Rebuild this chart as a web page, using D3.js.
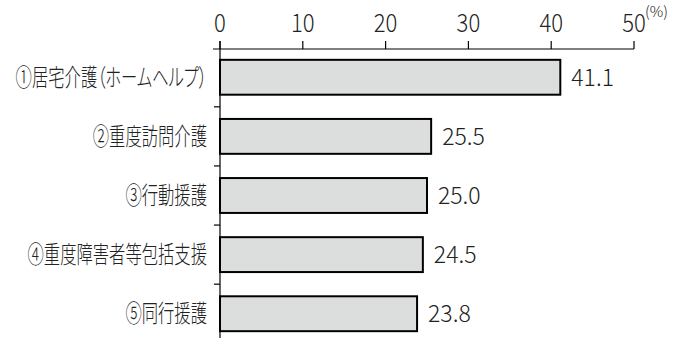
<!DOCTYPE html>
<html><head><meta charset="utf-8">
<script src="https://cdn.jsdelivr.net/npm/d3@7"></script>
<style>
body{margin:0;background:#fff;}
text{font-family:"Noto Sans CJK JP","Noto Sans",sans-serif;font-weight:300;fill:#222;}
</style></head>
<body><svg id="c" width="683" height="338"></svg>
<script>
const categories=["①居宅介護（ホームヘルプ）","②重度訪問介護","③行動援護","④重度障害者等包括支援","⑤同行援護"];
const values=[41.1,25.5,25.0,24.5,23.8];
const tickValues=[0,10,20,30,40,50];
const unitLabel="(%)";

const svg=d3.select("#c");
const x0=220,x1=634,axisY=49;
const x=d3.scaleLinear().domain([0,50]).range([x0,x1]);
const y=d3.scaleBand().domain(categories).range([48,343]).paddingInner(0.41).paddingOuter(0.2);

// horizontal axis
svg.append("line").attr("x1",213).attr("x2",x1).attr("y1",axisY).attr("y2",axisY).attr("stroke","#000").attr("stroke-width",1.2);
svg.selectAll(".xt").data(tickValues).join("line").attr("x1",d=>x(d)).attr("x2",d=>x(d)).attr("y1",axisY-8).attr("y2",axisY).attr("stroke","#000").attr("stroke-width",1.2);
svg.selectAll(".xl").data(tickValues).join("g").attr("transform",d=>`translate(${x(d)},32) scale(0.9,1)`)
 .append("text").attr("text-anchor","middle").attr("font-size",24.5).text(d=>d);
svg.append("text").attr("x",x(50)+11).attr("y",17).attr("font-size",15).text(unitLabel);

// vertical axis
svg.append("line").attr("x1",x0).attr("x2",x0).attr("y1",axisY-8).attr("y2",338).attr("stroke","#000").attr("stroke-width",1.2);
const step=y.step();
const seps=categories.slice(1).map(c=>y(c)-(step-y.bandwidth())/2);
svg.selectAll(".yt").data(seps).join("line").attr("x1",x0-6).attr("x2",x0).attr("y1",d=>d).attr("y2",d=>d).attr("stroke","#000").attr("stroke-width",1.2);

// bars
svg.selectAll(".bar").data(values).join("rect")
 .attr("x",x0).attr("y",(d,i)=>y(categories[i])).attr("width",d=>x(d)-x0).attr("height",y.bandwidth())
 .attr("fill","#dcdddd").attr("stroke","#000").attr("stroke-width",2);

// labels
svg.selectAll(".cl").data(categories).join("g").attr("transform",d=>`translate(207,${y(d)+y.bandwidth()/2}) scale(0.68,1)`)
 .append("text").attr("dy","0.36em").attr("text-anchor","end").attr("font-size",24)
 .style("font-feature-settings","'palt'").text(d=>d);
svg.selectAll(".vl").data(values).join("text").attr("x",d=>x(d)+11).attr("y",(d,i)=>y(categories[i])+y.bandwidth()/2).attr("dy","0.36em")
 .attr("font-size",23).text(d=>d.toFixed(1));
</script></body></html>
